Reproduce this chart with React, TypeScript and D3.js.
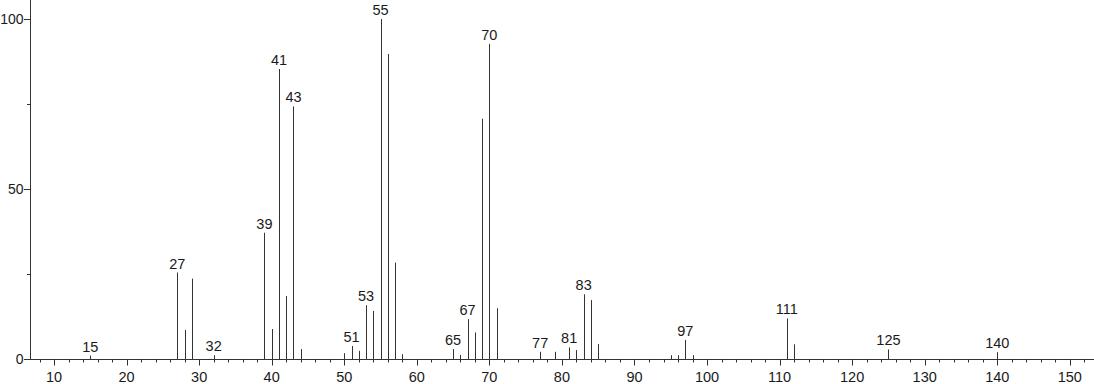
import React from "react";
import * as d3 from "d3";

const mz = [15, 27, 28, 29, 32, 39, 40, 41, 42, 43, 44, 50, 51, 52, 53, 54, 55, 56, 57, 58, 65, 66, 67, 68, 69, 70, 71, 77, 79, 81, 82, 83, 84, 85, 95, 96, 97, 98, 111, 112, 125, 140];
const intensity = [1.1, 25.5, 8.6, 23.7, 1.2, 37.2, 8.9, 85.3, 18.6, 74.3, 3.0, 1.8, 3.9, 2.5, 15.9, 14.2, 100, 89.7, 28.4, 1.5, 3.0, 1.3, 11.8, 7.9, 70.7, 92.7, 15.0, 2.2, 2.2, 3.5, 2.7, 19.1, 17.4, 4.5, 1.2, 1.2, 5.7, 1.2, 12.0, 4.4, 2.9, 2.1];
const labeledPeaks = [15, 27, 32, 39, 41, 43, 51, 53, 55, 65, 67, 70, 77, 81, 83, 97, 111, 125, 140];
const xTickLabels = [10, 20, 30, 40, 50, 60, 70, 80, 90, 100, 110, 120, 130, 140, 150];
const yTickLabels = [0, 50, 100];

const W = 1094;
const H = 384;

export default function App() {
  const x = d3.scaleLinear().domain([6.69, 153.33]).range([30, 1094]);
  const y = d3.scaleLinear().domain([0, 100]).range([359.3, 19]);
  const baseY = Math.round(y(0)) + 0.5;
  const minorX = d3.range(8, 154, 2);
  const minorY = d3.range(0, 101, 25);
  const font = "'Liberation Sans', Arial, sans-serif";
  return (
    <svg width={W} height={H} style={{ position: "absolute", left: 0, top: 0 }}>
      <rect x={0} y={0} width={W} height={H} fill="#fff" />
      <line x1={30.5} x2={30.5} y1={0} y2={baseY} stroke="#333" strokeWidth={1} />
      {minorY.map((v) => (
        <line key={"yt" + v} x1={v % 50 === 0 ? 24 : 27} x2={30.5} y1={Math.round(y(v)) + 0.5} y2={Math.round(y(v)) + 0.5} stroke="#333" strokeWidth={1} />
      ))}
      {yTickLabels.map((v) => (
        <text key={"yl" + v} x={23.5} y={y(v)} dy="0.36em" textAnchor="end" fontSize={14} fontFamily={font} fill="#1a1a1a">
          {v}
        </text>
      ))}
      <line x1={30} x2={W} y1={baseY} y2={baseY} stroke="#333" strokeWidth={1} />
      {minorX.map((v) => (
        <line key={"xt" + v} x1={Math.round(x(v)) + 0.5} x2={Math.round(x(v)) + 0.5} y1={baseY} y2={baseY + (v % 10 === 0 ? 6 : 3)} stroke="#333" strokeWidth={1} />
      ))}
      {xTickLabels.map((v) => (
        <text key={"xl" + v} x={x(v)} y={382} textAnchor="middle" fontSize={14.5} fontFamily={font} fill="#1a1a1a">
          {v}
        </text>
      ))}
      {mz.map((m, i) => (
        <line key={"p" + m} x1={Math.round(x(m)) + 0.5} x2={Math.round(x(m)) + 0.5} y1={baseY} y2={y(intensity[i])} stroke="#333" strokeWidth={1} />
      ))}
      {labeledPeaks.map((m) => {
        const i = mz.indexOf(m);
        return (
          <text key={"pl" + m} x={x(m)} y={y(intensity[i]) - 4} textAnchor="middle" fontSize={14.5} fontFamily={font} fill="#1a1a1a">
            {m}
          </text>
        );
      })}
    </svg>
  );
}
